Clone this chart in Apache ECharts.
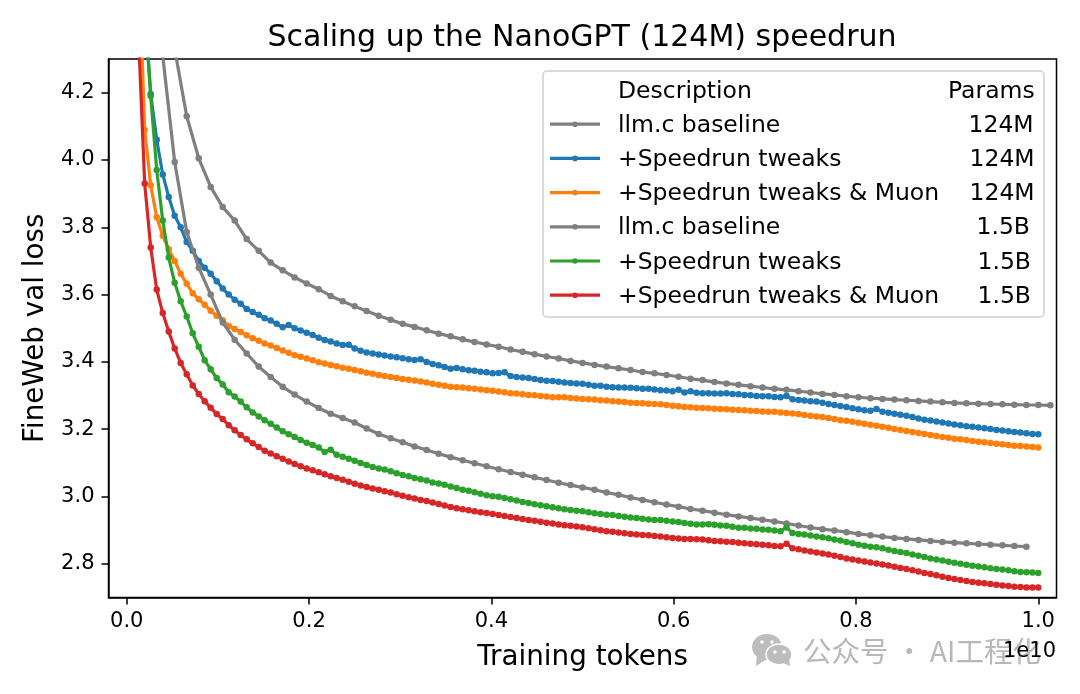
<!DOCTYPE html>
<html><head><meta charset="utf-8">
<script src="https://cdn.jsdelivr.net/npm/echarts@6/dist/echarts.min.js"></script>
<style>html,body{margin:0;padding:0;background:#fff}#c{width:1080px;height:694px}</style>
</head><body><div id="c"></div>
<script>
const tokensFine=[.0132,.0197,.0263,.0329,.0395,.0461,.0526,.0592,.0658,
.0724,.0790,.0855,.0921,.0987,.1053,.1119,.1184,.1250,.1316,
.1382,.1448,.1513,.1579,.1645,.1711,.1777,.1842,.1908,.1974,
.2040,.2106,.2171,.2237,.2303,.2369,.2435,.2500,.2566,.2632,
.2698,.2764,.2829,.2895,.2961,.3027,.3093,.3158,.3224,.3290,
.3356,.3422,.3487,.3553,.3619,.3685,.3751,.3816,.3882,.3948,
.4014,.4080,.4145,.4211,.4277,.4343,.4409,.4474,.4540,.4606,
.4672,.4738,.4803,.4869,.4935,.5001,.5067,.5132,.5198,.5264,
.5330,.5396,.5461,.5527,.5593,.5659,.5725,.5790,.5856,.5922,
.5988,.6054,.6119,.6185,.6251,.6317,.6383,.6448,.6514,.6580,
.6646,.6712,.6777,.6843,.6909,.6975,.7041,.7106,.7172,.7238,
.7304,.7370,.7435,.7501,.7567,.7633,.7699,.7764,.7830,.7896,
.7962,.8028,.8093,.8159,.8225,.8291,.8357,.8422,.8488,.8554,
.8620,.8686,.8751,.8817,.8883,.8949,.9015,.9080,.9146,.9212,
.9278,.9344,.9409,.9475,.9541,.9607,.9673,.9738,.9804,.9870,
.9936,1.0];
const tokensCoarse=[.0395,.0526,.0658,.0790,.0921,.1053,.1184,.1316,.1448,.1579,.1711,.1842,.1974,.2106,.2237,.2369,.2500,.2632,.2764,.2895,.3027,.3158,.3290,.3422,.3553,.3685,.3816,.3948,.4080,.4211,.4343,.4474,.4606,.4738,.4869,.5001,.5132,.5264,.5396,.5527,.5659,.5790,.5922,.6054,.6185,.6317,.6448,.6580,.6712,.6843,.6975,.7106,.7238,.7370,.7501,.7633,.7764,.7896,.8028,.8159,.8291,.8422,.8554,.8686,.8817,.8949,.9080,.9212,.9344,.9475,.9607,.9738,.9870,1.0001,1.0133];
const baseline124=[4.7,4.33,4.13,4.005,3.92,3.86,3.82,3.765,3.73,3.695,
3.672,3.651,3.633,3.616,3.596,3.58,3.565,3.551,3.537,3.525,
3.513,3.504,3.494,3.484,3.476,3.467,3.459,3.452,3.445,3.437,
3.43,3.423,3.416,3.41,3.403,3.397,3.391,3.386,3.381,3.376,
3.37,3.366,3.361,3.356,3.35,3.346,3.34,3.336,3.332,3.328,
3.324,3.32,3.317,3.313,3.309,3.305,3.302,3.298,3.295,3.292,
3.29,3.288,3.286,3.284,3.282,3.28,3.278,3.277,3.276,3.275,
3.274,3.273,3.272,3.272,3.271];
const tweaks124=[4.9,4.45,4.196,4.06,3.957,3.89,3.834,3.80,3.756,3.73,
3.70,3.68,3.662,3.64,3.618,3.60,3.585,3.573,3.557,
3.548,3.54,3.53,3.523,3.513,3.503,3.51,3.50,3.493,3.487,
3.48,3.472,3.465,3.461,3.455,3.45,3.451,3.44,3.433,3.428,
3.425,3.422,3.419,3.416,3.414,3.411,3.408,3.406,3.408,3.40,
3.394,3.39,3.385,3.38,3.382,3.378,3.375,3.374,3.371,3.369,
3.366,3.367,3.369,3.358,3.355,3.354,3.352,3.349,3.346,3.344,
3.343,3.341,3.339,3.337,3.336,3.335,3.332,3.329,3.329,3.326,
3.325,3.324,3.324,3.323,3.322,3.32,3.32,3.318,3.316,3.315,
3.313,3.317,3.309,3.313,3.308,3.307,3.307,3.306,3.306,3.307,
3.305,3.304,3.302,3.301,3.299,3.298,3.298,3.296,3.295,3.299,
3.289,3.287,3.285,3.283,3.282,3.279,3.275,3.272,3.269,3.266,
3.262,3.259,3.256,3.255,3.26,3.252,3.249,3.246,3.243,3.24,
3.236,3.232,3.228,3.226,3.223,3.22,3.217,3.214,3.212,3.209,
3.207,3.205,3.203,3.201,3.198,3.196,3.194,3.192,3.19,3.188,3.186,3.185];
const muon124=[4.6,4.09,3.925,3.83,3.775,3.735,3.70,3.662,3.632,3.604,
3.586,3.57,3.552,3.537,3.524,3.507,3.498,3.489,3.479,
3.47,3.463,3.455,3.449,3.441,3.434,3.427,3.42,3.415,3.41,
3.405,3.399,3.395,3.391,3.387,3.383,3.38,3.376,3.372,3.368,
3.365,3.361,3.358,3.355,3.352,3.349,3.347,3.345,3.342,3.339,
3.335,3.332,3.329,3.326,3.325,3.324,3.322,3.32,3.318,3.316,
3.314,3.312,3.31,3.307,3.306,3.304,3.302,3.301,3.299,3.297,
3.295,3.295,3.295,3.293,3.291,3.29,3.289,3.288,3.286,3.285,
3.283,3.282,3.281,3.279,3.278,3.277,3.276,3.275,3.274,3.272,
3.27,3.268,3.266,3.265,3.264,3.263,3.262,3.261,3.26,3.259,
3.258,3.257,3.256,3.255,3.254,3.253,3.252,3.252,3.25,3.248,
3.247,3.245,3.242,3.24,3.238,3.236,3.233,3.23,3.227,3.225,
3.222,3.219,3.216,3.213,3.21,3.207,3.204,3.201,3.198,3.195,
3.192,3.189,3.186,3.183,3.18,3.177,3.175,3.172,3.17,3.168,
3.165,3.163,3.161,3.159,3.157,3.155,3.153,3.151,3.15,3.149,3.147,3.146];
const baseline15=[4.31,3.994,3.786,3.68,3.60,3.517,3.466,3.425,3.386,3.355,
3.326,3.303,3.282,3.263,3.246,3.233,3.22,3.202,3.186,3.173,
3.161,3.149,3.138,3.127,3.117,3.108,3.099,3.09,3.081,3.073,
3.065,3.057,3.049,3.041,3.034,3.027,3.02,3.012,3.005,2.997,
2.99,2.983,2.976,2.97,2.963,2.958,2.952,2.946,2.941,2.936,
2.931,2.926,2.92,2.914,2.908,2.903,2.899,2.894,2.889,2.885,
2.881,2.877,2.874,2.871,2.868,2.865,2.863,2.861,2.859,2.857,
2.855,2.853,2.851];
const tweaks15=[4.9,4.46,4.19,3.97,3.82,3.71,3.635,3.58,3.535,3.485,
3.445,3.405,3.378,3.352,3.333,3.31,3.297,3.282,3.265,
3.25,3.238,3.227,3.216,3.205,3.194,3.185,3.177,3.168,3.16,
3.153,3.146,3.132,3.139,3.124,3.118,3.112,3.106,3.1,3.094,
3.088,3.083,3.08,3.075,3.069,3.064,3.06,3.055,3.051,3.048,
3.042,3.039,3.035,3.03,3.025,3.02,3.017,3.013,3.008,3.004,
3.001,2.999,2.996,2.992,2.988,2.984,2.981,2.977,2.974,2.971,
2.968,2.965,2.962,2.96,2.958,2.956,2.953,2.95,2.948,2.946,
2.945,2.942,2.94,2.938,2.936,2.934,2.932,2.93,2.93,2.928,
2.926,2.924,2.921,2.919,2.917,2.917,2.918,2.916,2.914,2.913,
2.91,2.907,2.907,2.905,2.904,2.902,2.901,2.899,2.897,2.908,
2.892,2.889,2.887,2.884,2.881,2.879,2.876,2.872,2.869,2.865,
2.861,2.857,2.854,2.851,2.849,2.846,2.842,2.838,2.835,2.832,
2.828,2.824,2.82,2.816,2.813,2.81,2.806,2.803,2.8,2.797,
2.794,2.792,2.79,2.787,2.785,2.783,2.781,2.778,2.776,2.775,2.774,2.773];
const muon15=[4.35,3.93,3.74,3.615,3.545,3.49,3.44,3.397,3.363,3.33,
3.305,3.283,3.264,3.245,3.23,3.212,3.197,3.183,3.17,
3.158,3.147,3.136,3.128,3.12,3.112,3.104,3.097,3.09,3.083,
3.078,3.072,3.066,3.06,3.055,3.05,3.044,3.038,3.033,3.028,
3.024,3.02,3.016,3.012,3.007,3.002,2.998,2.994,2.99,2.987,
2.982,2.978,2.973,2.969,2.965,2.962,2.959,2.956,2.953,2.951,
2.948,2.945,2.942,2.939,2.936,2.933,2.93,2.928,2.925,2.922,
2.92,2.917,2.915,2.913,2.911,2.909,2.906,2.903,2.9,2.897,
2.895,2.893,2.891,2.889,2.887,2.886,2.885,2.883,2.881,2.879,
2.877,2.875,2.874,2.874,2.873,2.872,2.87,2.868,2.867,2.866,
2.865,2.863,2.861,2.86,2.858,2.857,2.855,2.853,2.852,2.86,
2.846,2.843,2.84,2.837,2.834,2.831,2.828,2.824,2.82,2.816,
2.813,2.81,2.807,2.804,2.801,2.798,2.795,2.791,2.788,2.785,
2.781,2.777,2.773,2.77,2.766,2.762,2.758,2.755,2.752,2.749,
2.746,2.744,2.742,2.74,2.738,2.736,2.734,2.732,2.731,2.73,2.73,2.73];
const xTicks=[0,0.2,0.4,0.6,0.8,1.0];
const yTicks=[2.8,3.0,3.2,3.4,3.6,3.8,4.0,4.2];
const rowNames=['llm.c baseline','+Speedrun tweaks','+Speedrun tweaks & Muon','llm.c baseline','+Speedrun tweaks','+Speedrun tweaks & Muon'];
const rowParams=['124M','124M','124M','1.5B','1.5B','1.5B'];
const colors=['#7f7f7f','#1f77b4','#ff7f0e','#7f7f7f','#2ca02c','#d62728'];
const FONT='DejaVu Sans';
const runs=[[tokensCoarse,baseline124],[tokensFine,tweaks124],[tokensFine,muon124],[tokensCoarse,baseline15],[tokensFine,tweaks15],[tokensFine,muon15]];
const series=runs.map(([xs,ys],i)=>({
  type:'line',name:rowNames[i]+' '+rowParams[i],
  data:ys.map((y,j)=>[xs[j],y]),
  showSymbol:true,showAllSymbol:true,symbol:'circle',symbolSize:6.5,
  lineStyle:{color:colors[i],width:3.2},itemStyle:{color:colors[i]},
  clip:true,z:2+i,silent:true
}));
const legendX=[550,600], textX=618, rowTop=91.5, rowStep=34.2;
const paramX=[968.5,969.5,969.5,976.5,977.5,977.5];
const LF='23.5px "'+FONT+'"';
const graphic=[
 {type:'rect',shape:{x:543,y:71,width:501,height:246,r:4},style:{fill:'rgba(255,255,255,0.9)',stroke:'#d0d0d0',lineWidth:1.5},z:20},
 {type:'text',x:textX,y:rowTop,style:{text:'Description',font:LF,fill:'#000',textVerticalAlign:'middle'},z:21},
 {type:'text',x:948,y:rowTop,style:{text:'Params',font:LF,fill:'#000',textVerticalAlign:'middle'},z:21}
];
rowNames.forEach((n,i)=>{
 const y=rowTop+rowStep*(i+1);
 graphic.push({type:'line',shape:{x1:legendX[0],y1:y-1.5,x2:legendX[1],y2:y-1.5},style:{stroke:colors[i],lineWidth:3.2},z:21});
 graphic.push({type:'circle',shape:{cx:(legendX[0]+legendX[1])/2,cy:y-1.5,r:2.8},style:{fill:colors[i]},z:21});
 graphic.push({type:'text',x:textX,y:y,style:{text:n,font:LF,fill:'#000',textVerticalAlign:'middle'},z:21});
 graphic.push({type:'text',x:paramX[i],y:y,style:{text:rowParams[i],font:LF,fill:'#000',textVerticalAlign:'middle'},z:21});
});
// watermark
graphic.push({type:'ellipse',shape:{cx:767,cy:647,rx:15,ry:13},style:{fill:'#bdbdbd'},z:10});
graphic.push({type:'polygon',shape:{points:[[757,655],[756,666],[767,659]]},style:{fill:'#bdbdbd'},z:10});
graphic.push({type:'ellipse',shape:{cx:779,cy:654.5,rx:13,ry:10.5},style:{fill:'#bdbdbd',stroke:'#fff',lineWidth:1.5},z:11});
graphic.push({type:'polygon',shape:{points:[[783,663],[790,666],[789,658]]},style:{fill:'#bdbdbd'},z:11});
[[762,642],[772,642],[775,652],[784,652]].forEach(([cx,cy])=>graphic.push({type:'circle',shape:{cx,cy,r:1.8},style:{fill:'#fff'},z:12}));
graphic.push({type:'text',x:803,y:651,style:{text:'公众号 · AI工程化',font:'28.5px "Noto Sans CJK SC"',fill:'#b8b8b8',textVerticalAlign:'middle'},z:12});
graphic.push({type:'text',x:1056,y:651.5,style:{text:'1e10',font:'21px "'+FONT+'"',fill:'#000',textAlign:'right',textVerticalAlign:'middle'},z:13});
const chart=echarts.init(document.getElementById('c'),null,{renderer:'canvas'});
const axisCommon={
 axisLine:{show:true,onZero:false,lineStyle:{color:'#000',width:1.5}},
 axisTick:{show:true,length:7,inside:false,lineStyle:{color:'#000',width:1.5}},
 splitLine:{show:false},
 nameLocation:'middle',
 nameMoveOverlap:false,
 nameTextStyle:{fontFamily:FONT,fontSize:27.8,color:'#000'}
};
chart.setOption({
 animation:false,backgroundColor:'#fff',
 title:{text:'Scaling up the NanoGPT (124M) speedrun',left:577,top:18,textAlign:'center',textStyle:{fontFamily:FONT,fontSize:30,fontWeight:'normal',color:'#000'}},
 grid:{left:108.5,right:23.5,top:59,bottom:96.5,show:true,borderColor:'#000',borderWidth:1.5,backgroundColor:'transparent'},
 xAxis:Object.assign({},axisCommon,{type:'value',min:-0.02,max:1.02,name:'Training tokens',nameGap:46,
  axisTick:Object.assign({},axisCommon.axisTick,{customValues:xTicks}),
  axisLabel:{customValues:xTicks,formatter:v=>v.toFixed(1),fontFamily:FONT,fontSize:21,color:'#000',margin:14}}),
 yAxis:Object.assign({},axisCommon,{type:'value',min:2.7,max:4.3,name:'FineWeb val loss',nameGap:59,
  axisTick:Object.assign({},axisCommon.axisTick,{customValues:yTicks}),
  axisLabel:{customValues:yTicks,formatter:v=>v.toFixed(1),fontFamily:FONT,fontSize:21,color:'#000',margin:14,padding:[4,0,0,0]}}),
 series,graphic
});
</script></body></html>
